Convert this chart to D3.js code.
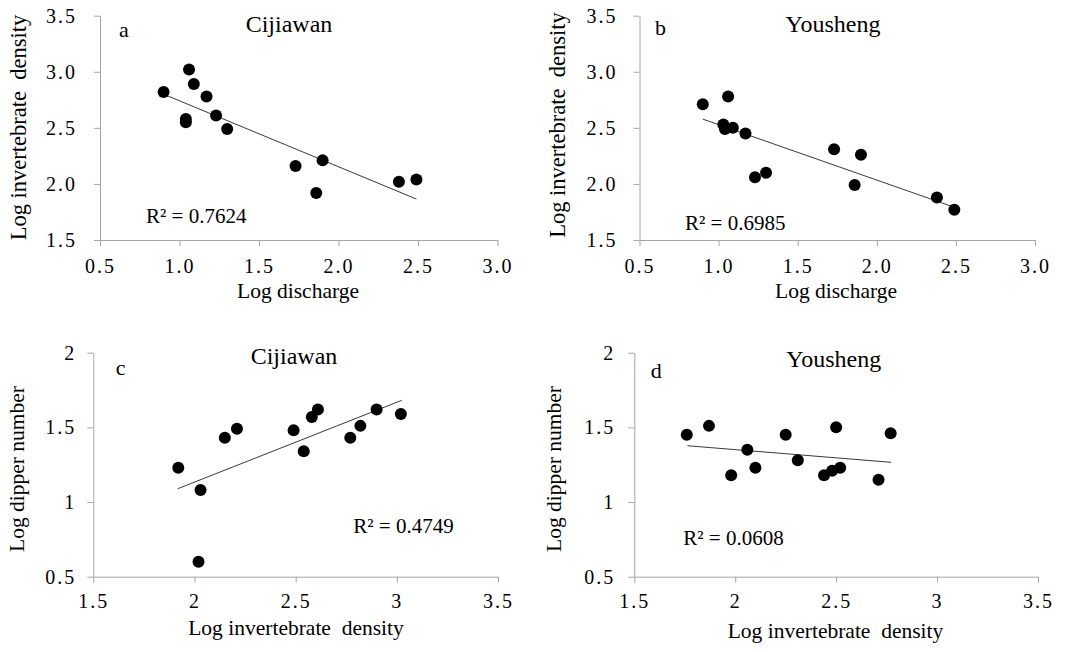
<!DOCTYPE html>
<html>
<head>
<meta charset="utf-8">
<script src="https://cdn.jsdelivr.net/npm/d3@7"></script>
<style>
  body { margin: 0; background: #fff; }
  svg { display: block; font-family: "Liberation Serif", "Times New Roman", serif; }
  .axis path, .axis line { stroke: #a6a6a6; stroke-width: 1; }
  .axis text { fill: #000; font-size: 20px; letter-spacing: 2px; font-family: "Liberation Serif", serif; }
</style>
</head>
<body>
<div class="chart"></div>
<script>
var svgWidth = 1065;
var svgHeight = 652;

// panel a - Cijiawan, discharge vs invertebrate density
var cijiawanDischarge = [0.90, 1.06, 1.09, 1.17, 1.23, 1.04, 1.04, 1.30, 1.73, 1.90, 1.86, 2.38, 2.49];
var cijiawanDensity   = [2.82, 3.02, 2.89, 2.78, 2.61, 2.58, 2.55, 2.49, 2.16, 2.21, 1.92, 2.02, 2.04];
var cijiawanTrendA    = [[0.90, 2.80], [2.49, 1.865]];

// panel b - Yousheng, discharge vs invertebrate density
var youshengDischarge = [0.90, 1.06, 1.03, 1.04, 1.09, 1.17, 1.23, 1.30, 1.73, 1.90, 1.86, 2.38, 2.49];
var youshengDensity   = [2.71, 2.78, 2.53, 2.49, 2.50, 2.45, 2.06, 2.10, 2.31, 2.26, 1.99, 1.88, 1.77];
var youshengTrendB    = [[0.90, 2.578], [2.48, 1.797]];

// panel c - Cijiawan, invertebrate density vs dipper number
var cijiawanDensityC = [1.92, 2.03, 2.02, 2.15, 2.21, 2.49, 2.54, 2.58, 2.61, 2.77, 2.82, 2.90, 3.02];
var cijiawanDipper   = [1.23, 1.08, 0.60, 1.43, 1.49, 1.48, 1.34, 1.57, 1.62, 1.43, 1.51, 1.62, 1.59];
var cijiawanTrendC   = [[1.917, 1.089], [3.024, 1.681]];

// panel d - Yousheng, invertebrate density vs dipper number
var youshengDensityD = [1.76, 1.87, 1.98, 2.06, 2.10, 2.25, 2.31, 2.44, 2.48, 2.52, 2.50, 2.71, 2.77];
var youshengDipper   = [1.45, 1.51, 1.18, 1.35, 1.23, 1.45, 1.28, 1.18, 1.21, 1.23, 1.50, 1.15, 1.46];
var youshengTrendD   = [[1.763, 1.377], [2.772, 1.266]];

// tick values
var dischargeTicks = [0.5, 1.0, 1.5, 2.0, 2.5, 3.0];
var densityTicksY  = [1.5, 2.0, 2.5, 3.0, 3.5];
var densityTicksX  = [1.5, 2, 2.5, 3, 3.5];
var dipperTicks    = [0.5, 1, 1.5, 2];

var svg = d3.select(".chart")
  .append("svg")
  .attr("width", svgWidth)
  .attr("height", svgHeight);

var panels = [
  {
    box: {left: 100, right: 497.5, top: 15.7, bottom: 240},
    xs: cijiawanDischarge, ys: cijiawanDensity, trend: cijiawanTrendA,
    xDomain: [0.5, 3.0], yDomain: [1.5, 3.5],
    xTicks: dischargeTicks, yTicks: densityTicksY, fmt: d3.format(".1f"),
    xPad: 12.8, yPad: 17,
    letter: "a", letterPos: [119, 37.3],
    site: "Cijiawan", sitePos: [289, 32.3],
    r2: "R\u00b2 = 0.7624", r2Pos: [146, 223],
    xTitle: "Log discharge", xTitlePos: [298, 298],
    yTitle: "Log invertebrate  density", yTitlePos: [26, 127.5], yTitleSize: 22.5
  },
  {
    box: {left: 639.5, right: 1035, top: 15.7, bottom: 240},
    xs: youshengDischarge, ys: youshengDensity, trend: youshengTrendB,
    xDomain: [0.5, 3.0], yDomain: [1.5, 3.5],
    xTicks: dischargeTicks, yTicks: densityTicksY, fmt: d3.format(".1f"),
    xPad: 12.8, yPad: 16,
    letter: "b", letterPos: [655, 35],
    site: "Yousheng", sitePos: [833, 31.7],
    r2: "R\u00b2 = 0.6985", r2Pos: [685, 230],
    xTitle: "Log discharge", xTitlePos: [836, 298],
    yTitle: "Log invertebrate  density", yTitlePos: [565, 125], yTitleSize: 22.5
  },
  {
    box: {left: 93.3, right: 498, top: 352.7, bottom: 576.7},
    xs: cijiawanDensityC, ys: cijiawanDipper, trend: cijiawanTrendC,
    xDomain: [1.5, 3.5], yDomain: [0.5, 2],
    xTicks: densityTicksX, yTicks: dipperTicks, fmt: d => String(d),
    xPad: 11.4, yPad: 11,
    letter: "c", letterPos: [115.7, 375],
    site: "Cijiawan", sitePos: [294, 364.3],
    r2: "R\u00b2 = 0.4749", r2Pos: [353.3, 532.7],
    xTitle: "Log invertebrate  density", xTitlePos: [296, 635],
    yTitle: "Log dipper number", yTitlePos: [24, 469], yTitleSize: 21.5
  },
  {
    box: {left: 634.3, right: 1038, top: 352.7, bottom: 576.7},
    xs: youshengDensityD, ys: youshengDipper, trend: youshengTrendD,
    xDomain: [1.5, 3.5], yDomain: [0.5, 2],
    xTicks: densityTicksX, yTicks: dipperTicks, fmt: d => String(d),
    xPad: 11.4, yPad: 13,
    letter: "d", letterPos: [650.7, 377.7],
    site: "Yousheng", sitePos: [833.7, 366.7],
    r2: "R\u00b2 = 0.0608", r2Pos: [683.3, 545],
    xTitle: "Log invertebrate  density", xTitlePos: [835.5, 638.3],
    yTitle: "Log dipper number", yTitlePos: [561, 469], yTitleSize: 21.5
  }
];

panels.forEach(function(p) {
  var b = p.box;

  var xScale = d3.scaleLinear().domain(p.xDomain).range([b.left, b.right]);
  var yScale = d3.scaleLinear().domain(p.yDomain).range([b.bottom, b.top]);

  // x axis
  svg.append("g")
    .attr("class", "axis")
    .attr("transform", `translate(0, ${b.bottom})`)
    .call(d3.axisBottom(xScale).tickValues(p.xTicks).tickFormat(p.fmt)
      .tickSize(6).tickSizeOuter(0).tickPadding(p.xPad))
    .attr("font-family", null).attr("font-size", null);

  // y axis
  svg.append("g")
    .attr("class", "axis")
    .attr("transform", `translate(${b.left}, 0)`)
    .call(d3.axisLeft(yScale).tickValues(p.yTicks).tickFormat(p.fmt)
      .tickSize(6).tickSizeOuter(0).tickPadding(p.yPad))
    .attr("font-family", null).attr("font-size", null);

  // trend line
  svg.append("path")
    .datum(p.trend)
    .attr("fill", "none")
    .attr("stroke", "#3a3a3a")
    .attr("stroke-width", 1)
    .attr("d", d3.line().x(d => xScale(d[0])).y(d => yScale(d[1])));

  // points
  svg.append("g")
    .selectAll("circle")
    .data(p.xs.map((x, i) => [x, p.ys[i]]))
    .enter()
    .append("circle")
    .attr("cx", d => xScale(d[0]))
    .attr("cy", d => yScale(d[1]))
    .attr("r", 6)
    .attr("fill", "#000");

  // panel letter and site name
  svg.append("text")
    .attr("x", p.letterPos[0]).attr("y", p.letterPos[1])
    .attr("font-size", "22px")
    .text(p.letter);

  svg.append("text")
    .attr("x", p.sitePos[0]).attr("y", p.sitePos[1])
    .attr("text-anchor", "middle")
    .attr("font-size", "24px")
    .text(p.site);

  // R squared
  svg.append("text")
    .attr("x", p.r2Pos[0]).attr("y", p.r2Pos[1])
    .attr("font-size", "21px")
    .text(p.r2);

  // axis titles
  svg.append("text")
    .attr("x", p.xTitlePos[0]).attr("y", p.xTitlePos[1])
    .attr("text-anchor", "middle")
    .attr("font-size", "21.5px")
    .style("white-space", "pre")
    .text(p.xTitle);

  svg.append("text")
    .attr("transform", `translate(${p.yTitlePos[0]}, ${p.yTitlePos[1]}) rotate(-90)`)
    .attr("text-anchor", "middle")
    .attr("font-size", p.yTitleSize + "px")
    .style("white-space", "pre")
    .text(p.yTitle);
});
</script>
</body>
</html>
